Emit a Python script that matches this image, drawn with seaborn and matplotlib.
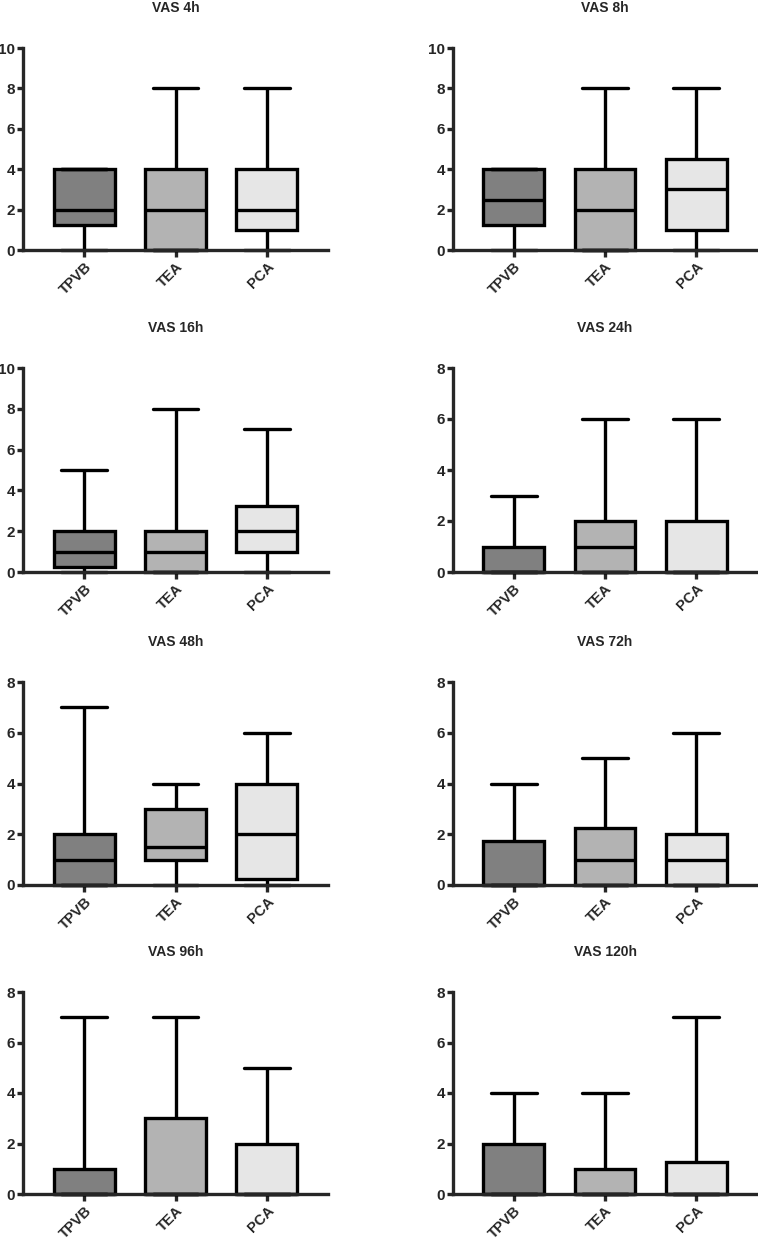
import numpy as np
import pandas as pd
import matplotlib
matplotlib.use("Agg")
import matplotlib.pyplot as plt
import seaborn as sns

# five-number summaries (min, q1, median, q3, max)
panels = ["VAS 4h", "VAS 8h", "VAS 16h", "VAS 24h",
          "VAS 48h", "VAS 72h", "VAS 96h", "VAS 120h"]
groups = ["TPVB", "TEA", "PCA"]
tpvb = [[0, 1.25, 2, 4, 4], [0, 1.25, 2.5, 4, 4], [0, 0.25, 1, 2, 5], [0, 0, 0, 1, 3],
        [0, 0, 1, 2, 7], [0, 0, 0, 1.75, 4], [0, 0, 0, 1, 7], [0, 0, 0, 2, 4]]
tea = [[0, 0, 2, 4, 8], [0, 0, 2, 4, 8], [0, 0, 1, 2, 8], [0, 0, 1, 2, 6],
       [0, 1, 1.5, 3, 4], [0, 0, 1, 2.25, 5], [0, 0, 0, 3, 7], [0, 0, 0, 1, 4]]
pca = [[0, 1, 2, 4, 8], [0, 1, 3, 4.5, 8], [0, 1, 2, 3.25, 7], [0, 0, 0, 2, 6],
       [0, 0.25, 2, 4, 6], [0, 0, 1, 2, 6], [0, 0, 0, 2, 5], [0, 0, 0, 1.25, 7]]
ymax = [10, 10, 10, 8, 8, 8, 8, 8]
colors = ["#808080", "#b3b3b3", "#e6e6e6"]

sns.set_style("ticks")
plt.rcParams["font.family"] = ["Liberation Sans", "DejaVu Sans"]
plt.rcParams["font.weight"] = "bold"

W, H = 758, 1240
fig = plt.figure(figsize=(W / 100, H / 100), dpi=100)

cols = [(23, 328), (453, 757)]
rows = [(48, 250), (368, 572), (682, 885), (992, 1194)]
lw = 2.4

for i, name in enumerate(panels):
    r, c = divmod(i, 2)
    x0, x1 = cols[c]
    y0, y1 = rows[r]
    ax = fig.add_axes([x0 / W, 1 - y1 / H, (x1 - x0) / W, (y1 - y0) / H])

    df = pd.DataFrame({
        "group": np.repeat(groups, 5),
        "vas": tpvb[i] + tea[i] + pca[i],
    })
    sns.boxplot(data=df, x="group", y="vas", hue="group", order=groups,
                palette=colors, legend=False, whis=(0, 100), width=0.67,
                linewidth=lw, linecolor="black", saturation=1, ax=ax)
    for art in ax.lines + ax.patches:
        art.set_clip_on(False)
    # wider whisker caps, like the original
    for ln in ax.lines:
        xs, ys = ln.get_xdata(), ln.get_ydata()
        if len(xs) == 2 and ys[0] == ys[1] and abs(xs[1] - xs[0]) < 0.4:
            mid = (xs[0] + xs[1]) / 2
            ln.set_xdata([mid - 0.25, mid + 0.25])

    ax.set_xlim(-0.67, 2.67)
    ax.set_ylim(0, ymax[i])
    ax.set_yticks(np.arange(0, ymax[i] + 1, 2))
    ax.set_xlabel("")
    ax.set_ylabel("")
    ax.set_title(name, fontsize=10, fontweight="bold", pad=26)
    sns.despine(ax=ax)
    for s in ["left", "bottom"]:
        ax.spines[s].set_linewidth(lw)
    ax.tick_params(axis="y", width=lw, length=4.5, labelsize=11, pad=1)
    ax.tick_params(axis="x", width=lw, length=5, labelsize=10.5, pad=2)
    ax.set_xticks(range(3))
    ax.set_xticklabels(groups, rotation=45, ha="right", rotation_mode="anchor",
                       fontweight="bold")
    for t in ax.get_yticklabels():
        t.set_fontweight("bold")

fig.savefig("out.png", dpi=100)
